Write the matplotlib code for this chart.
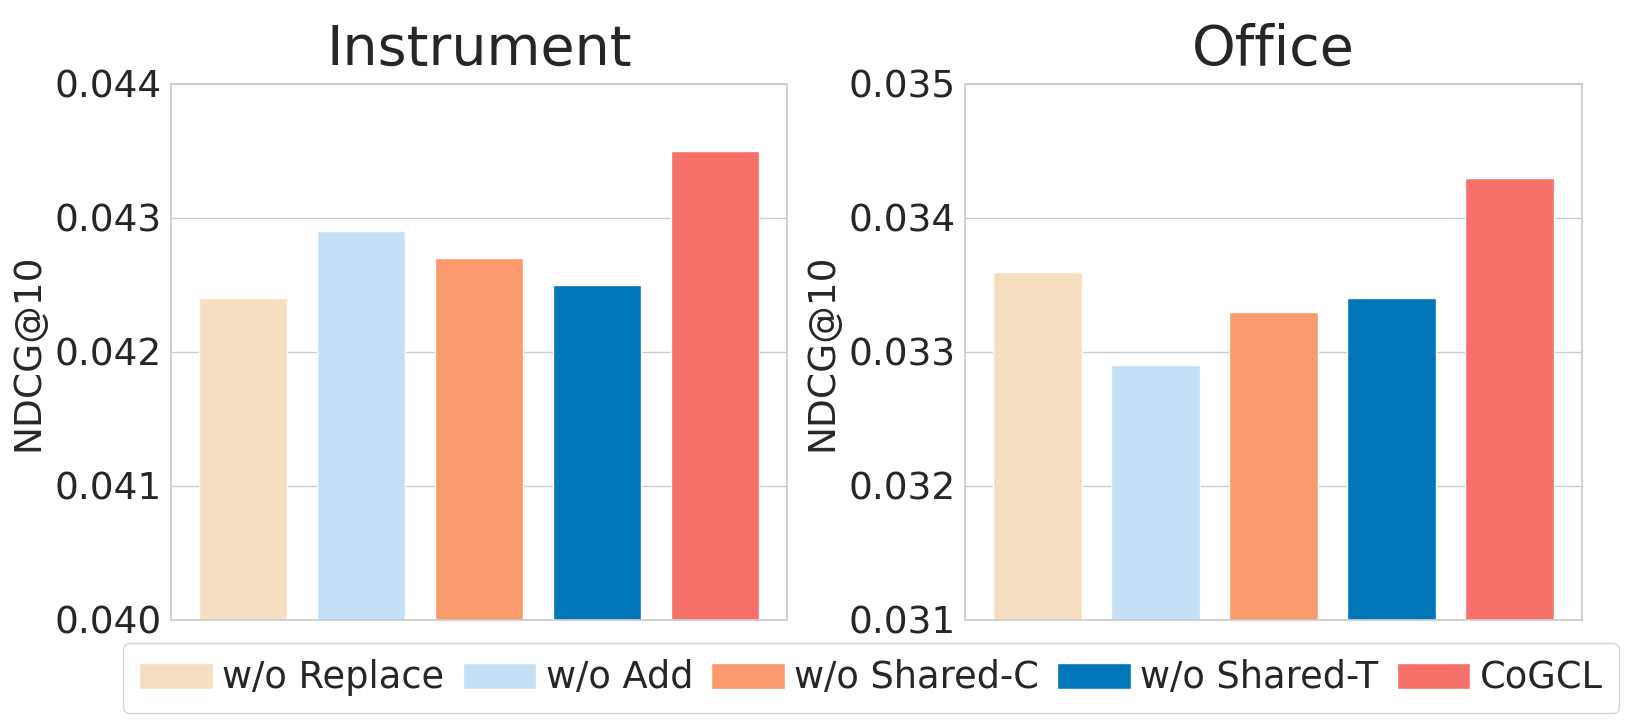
import matplotlib
matplotlib.use("Agg")
import matplotlib.pyplot as plt
import seaborn as sns
from matplotlib.patches import Patch

sns.set_theme(style="whitegrid")
plt.rcParams["font.family"] = ["DejaVu Sans"]

variants = ["w/o Replace", "w/o Add", "w/o Shared-C", "w/o Shared-T", "CoGCL"]
colors = ["#F6DFC1", "#C3E0F6", "#FB9A6C", "#0077BA", "#F6716A"]

datasets = ["Instrument", "Office"]
instrument = [0.0424, 0.0429, 0.0427, 0.0425, 0.0435]
office = [0.0336, 0.0329, 0.0333, 0.0334, 0.0343]
ylims = [(0.040, 0.044), (0.031, 0.035)]
yticks = [
    [0.040, 0.041, 0.042, 0.043, 0.044],
    [0.031, 0.032, 0.033, 0.034, 0.035],
]

fig = plt.figure(figsize=(16.43, 7.25), dpi=100)
ax1 = fig.add_axes([171 / 1643, 1 - 620 / 725, 616 / 1643, 536 / 725])
ax2 = fig.add_axes([965 / 1643, 1 - 620 / 725, 617 / 1643, 536 / 725])

for ax, name, vals, lim, ticks in zip([ax1, ax2], datasets, [instrument, office], ylims, yticks):
    ax.bar(range(len(vals)), vals, width=0.75, color=colors)
    ax.set_ylim(*lim)
    ax.set_yticks(ticks)
    ax.set_yticklabels([f"{t:.3f}" for t in ticks], fontsize=27)
    ax.tick_params(axis="y", pad=0.5)
    ax.set_xticks([])
    ax.set_title(name, fontsize=40, pad=14)
    ax.set_ylabel("NDCG@10", fontsize=27, labelpad=6)
    ax.grid(axis="x", visible=False)
    for s in ax.spines.values():
        s.set_color("#cccccc")

handles = [Patch(facecolor=c, label=l) for c, l in zip(colors, variants)]
fig.legend(handles=handles, loc="center", ncol=5, fontsize=26.5,
           bbox_to_anchor=(871 / 1643, 1 - 678 / 725),
           handlelength=2.0, handleheight=0.7, handletextpad=0.25,
           columnspacing=0.5, frameon=True, borderpad=0.45)

fig.savefig("out.png", dpi=100)
